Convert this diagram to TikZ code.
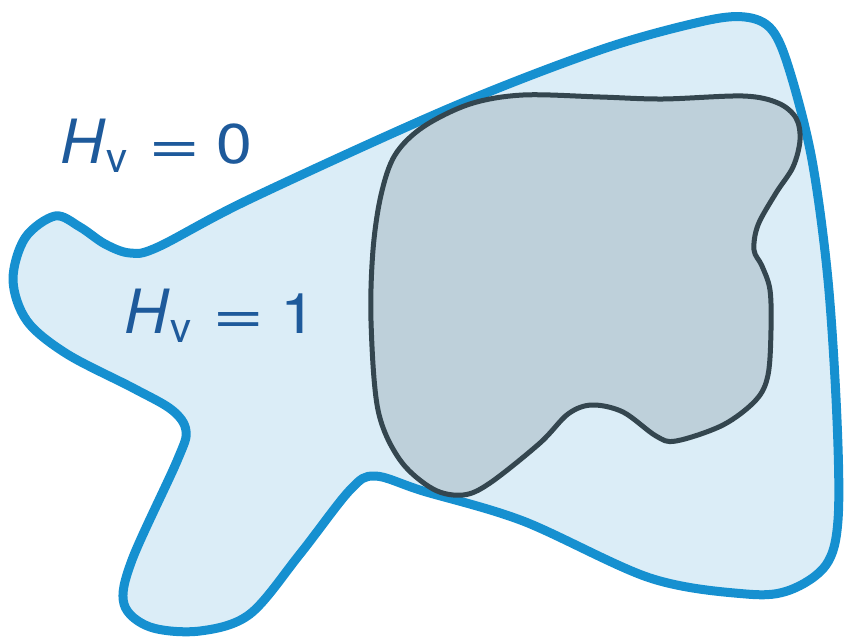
\documentclass[tikz,border=0pt]{standalone}
\usepackage{fontspec}
\usepackage{graphicx}
\setmainfont{TeX Gyre Heros}
\definecolor{outerline}{RGB}{22,144,208}
\definecolor{outerfill}{RGB}{219,237,247}
\definecolor{innerfill}{RGB}{190,208,218}
\definecolor{innerline}{RGB}{52,70,79}
\definecolor{labelblue}{RGB}{30,90,155}
\newcommand{\hvlabel}[1]{{\fontsize{61}{61}\selectfont\textit{H}}\kern1pt\raisebox{-9pt}{\fontsize{42}{42}\selectfont v}\hspace{21pt}\scalebox{1.6}[1]{=}\hspace{15pt}\scalebox{1.15}[1]{#1}}
\tikzset{
  outerblob/.style={draw=outerline, fill=outerfill, line width=9pt, line join=round},
  innerblob/.style={draw=innerline, fill=innerfill, line width=5pt, line join=round},
  hlabel/.style={anchor=base west, inner sep=0pt, text=labelblue, font=\fontsize{56}{56}\selectfont}
}
\begin{document}
\begin{tikzpicture}[x=1pt,y=-1pt]
\useasboundingbox (0,0) rectangle (846,642);
\draw[outerblob] plot[smooth cycle, tension=0.55] coordinates {
 (130,253) (158,247) (250,199) (450,108) (600,50) (700,22) (745,17) (772,30) (790,72)
 (812,160) (828,280) (837,420) (838,520) (826,565) (790,590) (746,594)
 (650,578) (523,521) (423,491) (375,476) (350,490) (300,554) (250,614)
 (200,631) (150,627) (124,604) (132,560) (177,461) (186,431) (172,410)
 (133,388) (67,354) (27,321) (13,280) (25,238) (55,216) (80,227) (105,244)};
\draw[innerblob] plot[smooth cycle, tension=0.55] coordinates {
 (423,127) (470,104) (523,95) (600,97) (663,99) (743,96) (778,103) (796,118)
 (800,140) (793,167) (776,193) (758,225) (754,250) (762,266) (770,290)
 (771,330) (768,375) (756,400) (723,425) (676,441) (656,436) (623,412)
 (592,405) (568,414) (540,443) (490,483) (463,495) (433,489) (400,460)
 (378,410) (371,321) (373,250) (381,195) (395,155)};
\node[hlabel] (h0) at (60,163) {\hvlabel{0}};
\node[hlabel] (h1) at (124,333) {\hvlabel{1}};
\end{tikzpicture}
\end{document}
